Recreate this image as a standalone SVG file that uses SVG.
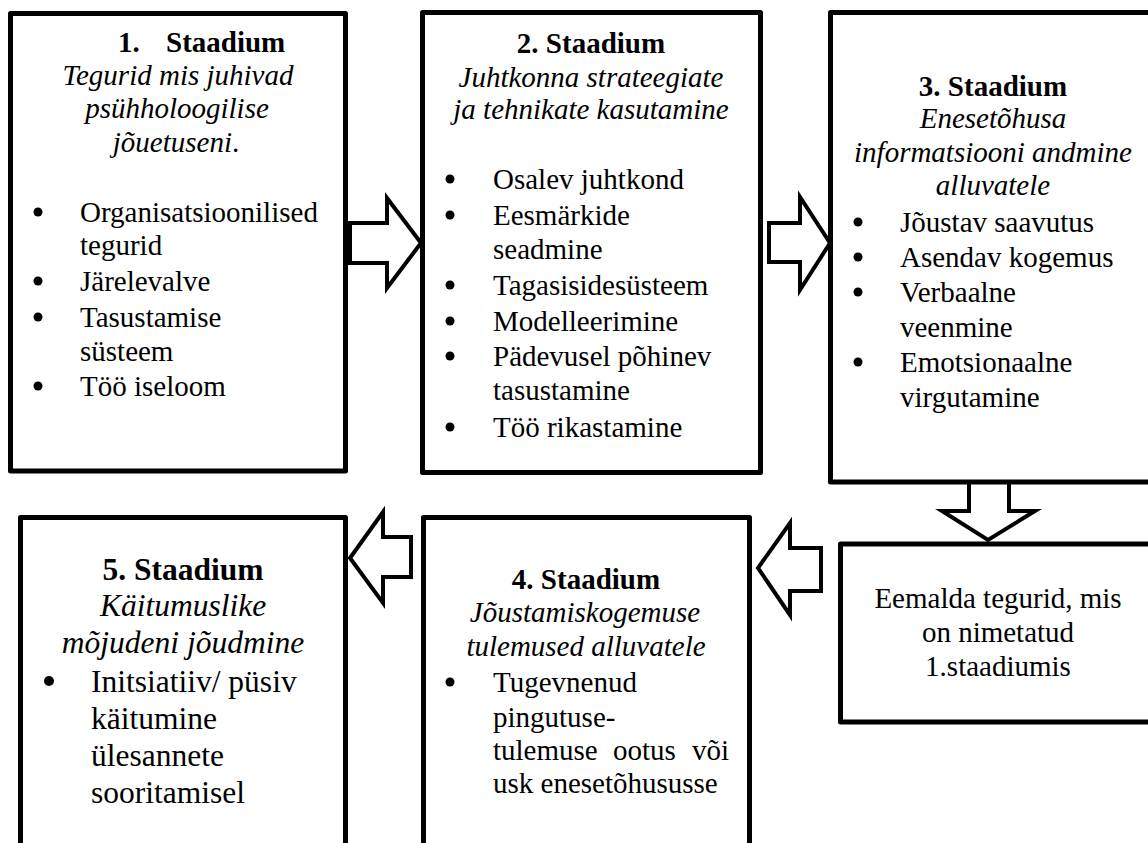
<svg xmlns="http://www.w3.org/2000/svg" width="1148" height="843" viewBox="0 0 1148 843">
<style>
.box{fill:#fff;stroke:#000;stroke-width:5;stroke-linejoin:round}
.arr{fill:#fff;stroke:#000;stroke-width:4;stroke-linejoin:miter}
text{font-family:'Liberation Serif','DejaVu Serif',serif;font-size:29px;fill:#000}
.big{font-size:31.5px}
.b{font-weight:bold}
.i{font-style:italic}
.c{text-anchor:middle}
.dot{fill:#000}
</style>
<rect x="0" y="0" width="1148" height="843" fill="#fff"/>
<g id="connectors">
  <polygon class="arr" points="350,223 387,223 387,198 421,243 387,288 387,263 350,263"/>
  <polygon class="arr" points="769,223 800,223 800,197 830,243 800,290 800,262 769,262"/>
  <polygon class="arr" points="969,481 1009,481 1009,511 1035,511 988,540 942,511 969,511"/>
  <polygon class="arr" points="821,548 790,548 790,523 758,568 790,615 790,591 821,591"/>
  <polygon class="arr" points="411,537 383,537 383,512 350,558 383,603 383,577 411,577"/>
</g>
<g id="stage1" font-family="Liberation Serif, serif">
  <rect class="box" x="10.5" y="13.5" width="335" height="457.5"/>
  <text class="b" x="118" y="52">1.</text>
  <text class="b" x="166" y="52">Staadium</text>
  <text class="i c" x="178" y="85">Tegurid mis juhivad</text>
  <text class="i c" x="177" y="118">psühholoogilise</text>
  <text class="c" x="176" y="152"><tspan class="i">jõuetuseni</tspan>.</text>
  <circle class="dot" cx="38" cy="212" r="4.5"/>
  <circle class="dot" cx="38" cy="281" r="4.5"/>
  <circle class="dot" cx="38" cy="317" r="4.5"/>
  <circle class="dot" cx="38" cy="386" r="4.5"/>
  <text x="80" y="222">Organisatsioonilised</text>
  <text x="80" y="255">tegurid</text>
  <text x="80" y="291">Järelevalve</text>
  <text x="80" y="327">Tasustamise</text>
  <text x="80" y="361">süsteem</text>
  <text x="80" y="396">Töö iseloom</text>
</g>
<g id="stage2">
  <rect class="box" x="422.5" y="12.5" width="338" height="460"/>
  <text class="b c" x="591" y="53">2. Staadium</text>
  <text class="i c" x="591" y="87">Juhtkonna strateegiate</text>
  <text class="i c" x="591" y="119">ja tehnikate kasutamine</text>
  <circle class="dot" cx="450" cy="179" r="4.5"/>
  <circle class="dot" cx="450" cy="215" r="4.5"/>
  <circle class="dot" cx="450" cy="285" r="4.5"/>
  <circle class="dot" cx="450" cy="321" r="4.5"/>
  <circle class="dot" cx="450" cy="356" r="4.5"/>
  <circle class="dot" cx="450" cy="427" r="4.5"/>
  <text x="493" y="189">Osalev juhtkond</text>
  <text x="493" y="225">Eesmärkide</text>
  <text x="493" y="259">seadmine</text>
  <text x="493" y="295">Tagasisidesüsteem</text>
  <text x="493" y="331">Modelleerimine</text>
  <text x="493" y="366">Pädevusel põhinev</text>
  <text x="493" y="400">tasustamine</text>
  <text x="493" y="437">Töö rikastamine</text>
</g>
<g id="stage3">
  <rect class="box" x="830.5" y="12.5" width="340" height="469.5"/>
  <text class="b c" x="993" y="96">3. Staadium</text>
  <text class="i c" x="993" y="128">Enesetõhusa</text>
  <text class="i c" x="993" y="162">informatsiooni andmine</text>
  <text class="i c" x="993" y="195">alluvatele</text>
  <circle class="dot" cx="858" cy="222" r="4.5"/>
  <circle class="dot" cx="858" cy="257" r="4.5"/>
  <circle class="dot" cx="858" cy="292" r="4.5"/>
  <circle class="dot" cx="858" cy="362" r="4.5"/>
  <text x="900" y="232">Jõustav saavutus</text>
  <text x="900" y="267">Asendav kogemus</text>
  <text x="900" y="302">Verbaalne</text>
  <text x="900" y="337">veenmine</text>
  <text x="900" y="372">Emotsionaalne</text>
  <text x="900" y="407">virgutamine</text>
</g>
<g id="remove">
  <rect class="box" x="840.5" y="544" width="330" height="178"/>
  <text class="c" x="998" y="608">Eemalda tegurid, mis</text>
  <text class="c" x="998" y="642">on nimetatud</text>
  <text class="c" x="998" y="676">1.staadiumis</text>
</g>
<g id="stage4">
  <rect class="box" x="423.5" y="517.5" width="326" height="350"/>
  <text class="b c" x="586" y="589">4. Staadium</text>
  <text class="i c" x="585" y="622">Jõustamiskogemuse</text>
  <text class="i c" x="586" y="656">tulemused alluvatele</text>
  <circle class="dot" cx="450" cy="682" r="4.5"/>
  <text x="493" y="692">Tugevnenud</text>
  <text x="493" y="727">pingutuse-</text>
  <text y="760"><tspan x="493">tulemuse</tspan><tspan x="613">ootus</tspan><tspan x="692">või</tspan></text>
  <text x="493" y="793">usk enesetõhususse</text>
</g>
<g id="stage5">
  <rect class="box" x="20.5" y="517.5" width="325" height="350"/>
  <text class="big b c" x="183" y="580">5. Staadium</text>
  <text class="big i c" x="183" y="616">Käitumuslike</text>
  <text class="big i c" x="183" y="653">mõjudeni jõudmine</text>
  <circle class="dot" cx="49" cy="681" r="5"/>
  <text class="big" x="91" y="692">Initsiatiiv/ püsiv</text>
  <text class="big" x="91" y="729">käitumine</text>
  <text class="big" x="91" y="766">ülesannete</text>
  <text class="big" x="91" y="803">sooritamisel</text>
</g>
</svg>
